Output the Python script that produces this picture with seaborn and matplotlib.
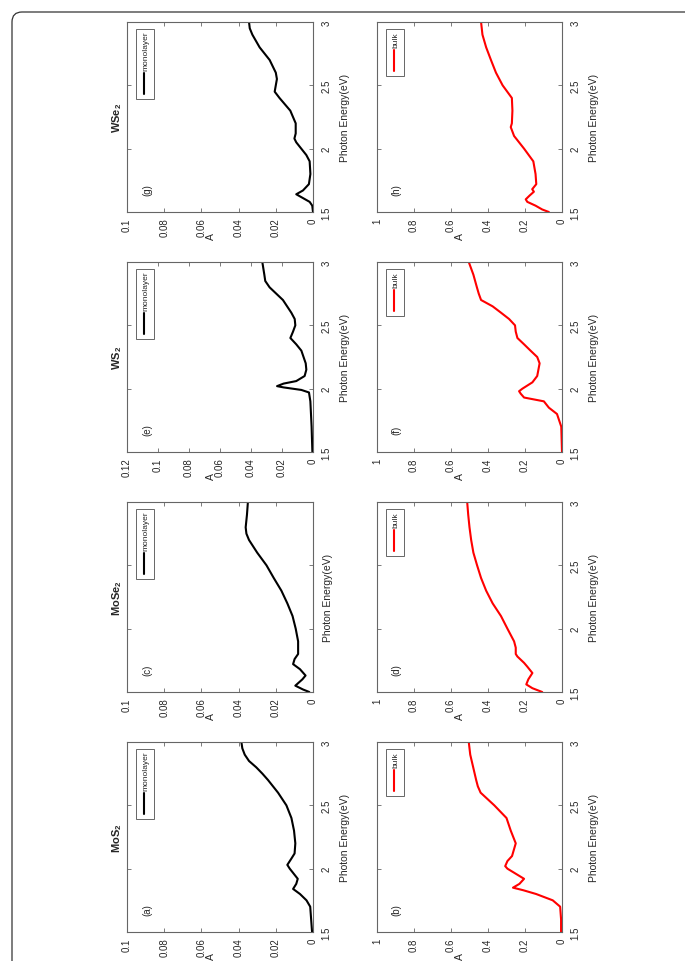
import matplotlib
matplotlib.use("Agg")
import matplotlib.pyplot as plt
import seaborn as sns
import pandas as pd
from matplotlib.patches import Rectangle, FancyBboxPatch

# Absorbance spectra (energy in eV, absorbance A)
mos2_mono_e = [1.5, 1.6, 1.7, 1.75, 1.8, 1.84, 1.88, 1.92, 2.0, 2.03, 2.08, 2.12, 2.2, 2.3, 2.4, 2.5, 2.6, 2.7, 2.75, 2.8, 2.85, 2.9, 2.95, 3.0]
mos2_mono_a = [0.0005, 0.001, 0.0015, 0.0035, 0.007, 0.0107, 0.009, 0.0082, 0.0125, 0.0138, 0.0116, 0.0099, 0.0095, 0.0102, 0.0116, 0.0143, 0.0188, 0.0242, 0.0272, 0.0305, 0.0344, 0.0367, 0.038, 0.0385]

mos2_bulk_e = [1.5, 1.6, 1.7, 1.75, 1.8, 1.83, 1.85, 1.88, 1.92, 1.96, 2.0, 2.02, 2.06, 2.1, 2.2, 2.3, 2.4, 2.5, 2.6, 2.65, 2.7, 2.8, 2.9, 3.0]
mos2_bulk_a = [0.005, 0.005, 0.01, 0.05, 0.14, 0.21, 0.265, 0.23, 0.205, 0.25, 0.295, 0.307, 0.295, 0.27, 0.25, 0.277, 0.30, 0.366, 0.44, 0.455, 0.464, 0.48, 0.496, 0.504]

mose2_mono_e = [1.5, 1.52, 1.55, 1.6, 1.63, 1.68, 1.72, 1.76, 1.8, 1.9, 2.0, 2.1, 2.2, 2.3, 2.4, 2.5, 2.6, 2.7, 2.75, 2.8, 2.9, 3.0]
mose2_mono_a = [0.002, 0.0054, 0.0095, 0.0057, 0.004, 0.007, 0.0107, 0.0099, 0.008, 0.008, 0.0093, 0.011, 0.0138, 0.017, 0.0211, 0.025, 0.030, 0.0344, 0.0358, 0.0362, 0.0355, 0.035]

mose2_bulk_e = [1.5, 1.53, 1.56, 1.6, 1.65, 1.7, 1.73, 1.78, 1.8, 1.85, 1.9, 2.0, 2.1, 2.2, 2.3, 2.4, 2.5, 2.6, 2.7, 2.8, 2.9, 3.0]
mose2_bulk_a = [0.107, 0.16, 0.193, 0.182, 0.16, 0.1875, 0.205, 0.241, 0.25, 0.25, 0.259, 0.295, 0.33, 0.375, 0.41, 0.4375, 0.459, 0.479, 0.491, 0.5, 0.507, 0.5125]

ws2_mono_e = [1.5, 1.7, 1.9, 1.97, 1.99, 2.01, 2.02, 2.04, 2.06, 2.1, 2.15, 2.2, 2.3, 2.35, 2.4, 2.45, 2.5, 2.55, 2.6, 2.7, 2.8, 2.85, 2.9, 3.0]
ws2_mono_a = [0.0004, 0.0009, 0.0017, 0.0026, 0.0075, 0.019, 0.0232, 0.019, 0.0108, 0.0054, 0.0043, 0.0047, 0.0075, 0.0108, 0.0146, 0.0129, 0.0114, 0.0118, 0.014, 0.0194, 0.028, 0.0308, 0.0314, 0.0327]

ws2_bulk_e = [1.5, 1.7, 1.8, 1.85, 1.9, 1.93, 1.96, 1.98, 2.0, 2.05, 2.1, 2.2, 2.25, 2.3, 2.35, 2.4, 2.45, 2.5, 2.55, 2.6, 2.65, 2.7, 2.75, 2.8, 2.9, 3.0]
ws2_bulk_a = [0.0, 0.004, 0.027, 0.071, 0.098, 0.205, 0.223, 0.232, 0.214, 0.16, 0.134, 0.121, 0.134, 0.17, 0.205, 0.241, 0.25, 0.254, 0.286, 0.33, 0.375, 0.4375, 0.45, 0.46, 0.479, 0.504]

wse2_mono_e = [1.5, 1.55, 1.58, 1.61, 1.64, 1.67, 1.72, 1.8, 1.9, 1.95, 2.0, 2.05, 2.08, 2.12, 2.2, 2.3, 2.4, 2.45, 2.5, 2.55, 2.6, 2.7, 2.8, 2.9, 2.95, 3.0]
wse2_mono_a = [0.0, 0.0004, 0.0018, 0.0054, 0.009, 0.0054, 0.0022, 0.0014, 0.0018, 0.0036, 0.0063, 0.009, 0.01, 0.0093, 0.0093, 0.0122, 0.018, 0.0206, 0.020, 0.0194, 0.020, 0.0233, 0.0287, 0.0326, 0.034, 0.0344]

wse2_bulk_e = [1.5, 1.52, 1.55, 1.58, 1.6, 1.63, 1.66, 1.68, 1.72, 1.8, 1.9, 2.0, 2.1, 2.17, 2.2, 2.3, 2.4, 2.5, 2.6, 2.7, 2.8, 2.9, 3.0]
wse2_bulk_a = [0.071, 0.107, 0.143, 0.1875, 0.196, 0.175, 0.152, 0.161, 0.139, 0.143, 0.155, 0.205, 0.259, 0.277, 0.271, 0.268, 0.271, 0.321, 0.357, 0.384, 0.41, 0.43, 0.4375]

materials = ["MoS", "MoSe", "WS", "WSe"]
panel_letters = [["(a)", "(b)"], ["(c)", "(d)"], ["(e)", "(f)"], ["(g)", "(h)"]]
mono_ticks = [[0, 0.02, 0.04, 0.06, 0.08, 0.1],
              [0, 0.02, 0.04, 0.06, 0.08, 0.1],
              [0, 0.02, 0.04, 0.06, 0.08, 0.1, 0.12],
              [0, 0.02, 0.04, 0.06, 0.08, 0.1]]
bulk_ticks = [0, 0.2, 0.4, 0.6, 0.8, 1]
energy_ticks = [1.5, 2, 2.5, 3]

spectra = [
    [(mos2_mono_e, mos2_mono_a), (mos2_bulk_e, mos2_bulk_a)],
    [(mose2_mono_e, mose2_mono_a), (mose2_bulk_e, mose2_bulk_a)],
    [(ws2_mono_e, ws2_mono_a), (ws2_bulk_e, ws2_bulk_a)],
    [(wse2_mono_e, wse2_mono_a), (wse2_bulk_e, wse2_bulk_a)],
]

sns.set_style("white")
plt.rcParams["font.family"] = ["Liberation Sans", "DejaVu Sans"]
plt.rcParams["mathtext.fontset"] = "custom"
plt.rcParams["mathtext.rm"] = "Liberation Sans"
plt.rcParams["mathtext.bf"] = "Liberation Sans:bold"

fig = plt.figure(figsize=(6.85, 9.62), dpi=100)

# the page is shown turned a quarter turn: energy runs up, A runs right-to-left
col_left = [127 / 685, 377 / 685]
col_width = [186 / 685, 185 / 685]
row_bottom = [1 - 933 / 962, 1 - 693 / 962, 1 - 453 / 962, 1 - 213 / 962]
ax_h = 190 / 962
spine_col = "#666666"

for i, mat in enumerate(materials):
    for j, kind in enumerate(["monolayer", "bulk"]):
        ax = fig.add_axes([col_left[j], row_bottom[i], col_width[j], ax_h])
        e_vals, a_vals = spectra[i][j]
        df = pd.DataFrame({"E": e_vals, "A": a_vals})
        color = "black" if j == 0 else "red"
        sns.lineplot(data=df, x="A", y="E", orient="y", sort=False, estimator=None,
                     color=color, lw=1.5, ax=ax)

        ticks = mono_ticks[i] if j == 0 else bulk_ticks
        ax.set_xlim(ticks[-1], 0)
        ax.set_ylim(1.5, 3)
        ax.set_xticks(ticks)
        ax.set_xticklabels([f"{t:g}" for t in ticks], rotation=90)
        ax.set_yticks(energy_ticks)
        ax.set_yticklabels([f"{t:g}" for t in energy_ticks], rotation=90)
        show_e = not (i == 1 and j == 0)
        ax.tick_params(axis="x", direction="in", length=3, width=0.6, color=spine_col,
                       top=True, bottom=True, labelsize=7, pad=4)
        ax.tick_params(axis="y", direction="in", length=3, width=0.6, color=spine_col,
                       left=True, right=True, labelleft=False, labelright=show_e,
                       labelsize=7, pad=6)
        for lab in ax.get_yticklabels():
            lab.set_va("center")
        ax.set_xlabel("")
        ax.set_ylabel("")
        for s in ax.spines.values():
            s.set_color(spine_col)
            s.set_linewidth(0.8)

        ax.text(0.45, -0.125, "A", rotation=90, ha="center", va="center",
                fontsize=7.5, transform=ax.transAxes)
        xl = (1 + 32 / 186) if show_e else (1 + 15 / 186)
        ax.text(xl, 0.5, "Photon Energy(eV)", rotation=90, ha="center", va="center",
                fontsize=7.5, transform=ax.transAxes)
        ax.text(0.107, 0.12, panel_letters[i][j], rotation=90, ha="center", va="center",
                fontsize=7, transform=ax.transAxes)

        # legend box drawn by hand so it can be turned with the rest
        box_bottom = 0.595 if j == 0 else 0.716
        ax.add_patch(Rectangle((0.048, box_bottom), 0.097, 0.963 - box_bottom,
                               transform=ax.transAxes, fill=False, ec=spine_col, lw=0.7))
        ax.plot([0.094, 0.094], [box_bottom + 0.027, box_bottom + 0.135],
                transform=ax.transAxes, color=color, lw=1.5)
        ax.text(0.104, box_bottom + 0.15, kind, rotation=90, ha="center", va="bottom",
                fontsize=6, transform=ax.transAxes)

        if j == 0:
            ax.text(-0.054, 0.5, mat + r"$_\mathbf{2}$", rotation=90, ha="center",
                    va="center", fontsize=8, fontweight="bold", transform=ax.transAxes)

# page border with rounded corner
fig.add_artist(FancyBboxPatch((0.12, -1.0), 8.0, 9.62 - 0.13 + 1.0,
                              boxstyle="round,pad=0,rounding_size=0.1",
                              transform=fig.dpi_scale_trans, fill=False,
                              ec="#333333", lw=0.9))

fig.savefig("out.png", dpi=100)
